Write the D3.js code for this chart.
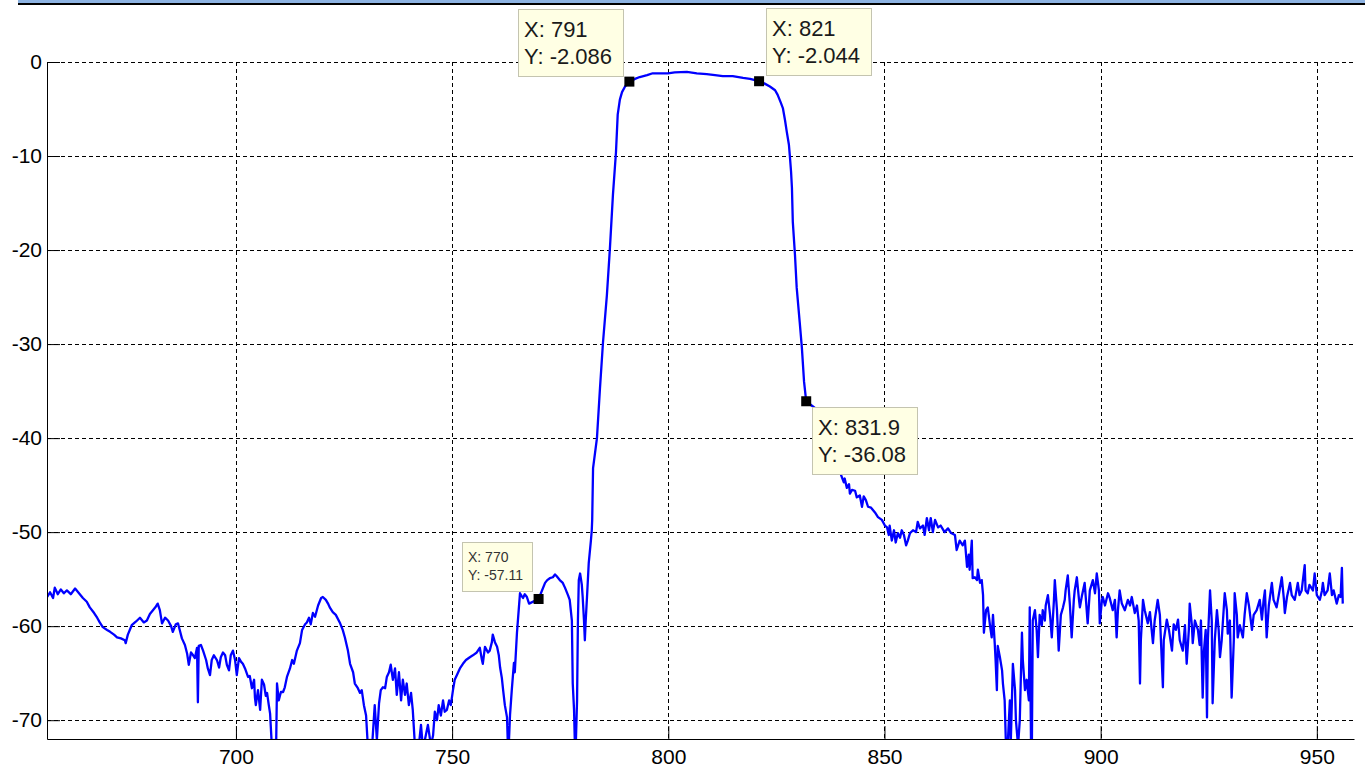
<!DOCTYPE html>
<html>
<head>
<meta charset="utf-8">
<script src="https://cdn.jsdelivr.net/npm/d3@7"></script>
<style>
  body { margin: 0; background: #fff; }
  text { font-family: "Liberation Sans", Arial, sans-serif; }
</style>
</head>
<body>
<svg id="svg"></svg>
<script>
const freq = [
  656.3, 657.0, 657.7, 658.1, 658.8, 659.5, 660.2, 660.9, 661.8, 662.8, 663.7, 664.6, 665.5, 666.2, 667.2,
  667.9, 668.5, 669.2, 670.2, 670.9, 671.8, 672.5, 673.4, 674.3, 674.5, 675.0, 675.9, 676.9, 677.8, 678.7,
  679.4, 680.1, 680.8, 681.5, 681.9, 682.4, 682.9, 683.6, 684.3, 685.0, 685.4, 686.1, 686.6, 687.0, 687.5,
  688.2, 688.7, 689.1, 689.6, 690.1, 690.5, 691.0, 691.2, 691.4, 691.9, 692.4, 693.1, 693.5, 694.0, 694.4,
  694.9, 695.6, 696.1, 696.5, 697.0, 697.5, 697.9, 698.4, 698.8, 699.3, 699.8, 700.2, 700.7, 701.2, 701.6,
  702.1, 702.8, 703.2, 703.7, 704.2, 704.4, 704.6, 705.1, 705.6, 706.0, 706.5, 706.9, 707.2, 707.6, 707.9,
  708.3, 708.8, 709.3, 709.5, 709.9, 710.4, 710.9, 711.3, 711.8, 712.5, 713.0, 713.4, 714.1, 714.8, 715.3,
  716.0, 716.4, 716.9, 717.3, 717.8, 718.3, 719.0, 719.7, 720.1, 720.8, 721.3, 721.7, 722.4, 723.1, 724.1,
  724.7, 725.2, 725.9, 726.4, 727.1, 727.5, 728.2, 728.7, 729.1, 729.6, 730.1, 730.5, 731.0, 731.5, 732.1,
  732.6, 733.1, 733.5, 734.0, 734.5, 734.9, 735.4, 735.8, 736.3, 736.8, 737.2, 737.7, 738.2, 738.6, 739.1,
  739.5, 740.0, 740.5, 740.9, 741.4, 741.9, 742.3, 742.8, 743.2, 743.7, 744.4, 745.1, 745.6, 746.0, 746.5,
  746.9, 747.4, 747.9, 748.3, 748.8, 749.3, 749.7, 750.2, 750.6, 751.3, 751.8, 752.5, 753.2, 754.1, 754.8,
  755.7, 756.4, 756.9, 757.1, 757.6, 758.3, 758.7, 759.2, 759.4, 759.9, 760.4, 760.8, 761.1, 761.5, 761.8,
  762.2, 762.7, 762.9, 763.1, 763.4, 763.8, 764.3, 764.5, 765.0, 765.4, 765.7, 766.1, 766.4, 766.8, 767.3,
  767.8, 770.0, 771.5, 772.0, 772.6, 773.3, 773.8, 774.2, 774.9, 775.6, 776.1, 776.8, 777.2, 777.7, 777.9,
  778.2, 778.4, 778.6, 778.9, 779.1, 779.3, 779.6, 780.0, 780.2, 780.5, 780.7, 780.9, 781.2, 781.6, 782.1,
  782.3, 782.4, 782.6, 783.5, 784.2, 784.9, 785.8, 786.5, 787.2, 787.9, 788.3, 788.8, 789.3, 790.0, 791.0,
  792.3, 793.4, 795.1, 796.4, 798.1, 799.9, 801.5, 804.3, 806.6, 808.9, 810.8, 812.6, 814.9, 817.3, 818.9,
  821.0, 822.3, 823.5, 824.7, 825.3, 826.0, 826.5, 827.0, 827.4, 827.9, 828.1, 828.4, 828.6, 828.8, 829.3,
  829.7, 830.4, 830.9, 831.4, 831.9, 833.9, 835.0, 836.2, 837.4, 838.5, 839.7, 840.1, 840.6, 840.8, 841.3,
  841.8, 842.0, 842.5, 843.2, 843.6, 844.3, 844.8, 845.2, 845.7, 846.2, 846.9, 847.8, 848.5, 849.4, 850.1,
  850.6, 851.0, 851.2, 851.7, 852.2, 852.6, 853.1, 853.6, 854.0, 854.5, 855.0, 855.4, 855.9, 856.6, 857.3,
  857.7, 858.2, 858.9, 859.3, 859.8, 860.3, 860.7, 861.2, 861.7, 862.4, 863.0, 863.9, 864.7, 865.4, 866.3,
  866.7, 867.4, 868.1, 868.6, 869.1, 869.5, 869.7, 870.2, 870.4, 870.9, 871.4, 871.6, 872.1, 872.5, 872.8,
  873.0, 873.5, 873.9, 874.4, 874.8, 875.1, 875.5, 875.7, 876.0, 876.2, 876.7, 877.2, 877.4, 877.8, 878.1,
  878.5, 879.0, 879.2, 879.7, 880.2, 880.4, 880.9, 881.3, 881.8, 882.0, 882.5, 882.9, 883.4, 883.6, 883.9,
  884.1, 884.3, 884.8, 885.2, 885.5, 885.9, 886.4, 886.6, 887.1, 887.3, 887.8, 888.3, 888.7, 889.2, 889.4,
  889.9, 890.3, 890.8, 891.3, 891.7, 891.9, 892.4, 892.9, 893.3, 893.8, 894.0, 894.5, 895.0, 895.2, 895.7,
  896.3, 896.6, 897.0, 897.5, 898.2, 898.7, 899.1, 899.6, 899.8, 900.3, 900.5, 901.0, 901.7, 902.1, 902.8,
  903.3, 903.7, 904.0, 904.4, 904.9, 905.6, 906.3, 906.8, 907.2, 907.9, 908.4, 908.8, 909.1, 909.3, 909.8,
  910.2, 910.9, 911.4, 912.1, 912.5, 913.2, 913.7, 914.4, 914.6, 915.3, 915.8, 916.5, 916.9, 917.4, 917.9,
  918.3, 919.0, 919.5, 919.9, 920.4, 920.6, 921.1, 921.3, 921.8, 922.5, 922.9, 923.2, 923.6, 923.9, 924.3,
  924.6, 924.8, 925.3, 925.7, 925.9, 926.4, 926.9, 927.3, 927.6, 928.0, 928.7, 929.2, 929.4, 929.9, 930.3,
  930.8, 931.0, 931.5, 931.7, 932.2, 932.9, 933.3, 933.8, 934.3, 935.0, 935.4, 936.1, 936.8, 937.3, 937.7,
  938.0, 938.4, 938.9, 939.6, 940.0, 940.7, 941.2, 941.9, 942.4, 942.6, 943.1, 943.8, 944.2, 944.9, 945.6,
  946.0, 946.5, 947.2, 947.4, 947.9, 948.3, 949.1, 949.5, 950.0, 950.7, 951.2, 951.4, 951.8, 952.5, 953.0,
  953.5, 953.9, 954.6, 955.1, 955.5, 955.8, 956.0
];
const gain = [
  -56.9, -56.4, -57.0, -55.9, -56.6, -56.1, -56.5, -56.2, -56.6, -56.0, -56.5, -57.0, -57.4, -58.0, -58.6,
  -59.1, -59.6, -60.1, -60.4, -60.6, -60.9, -61.2, -61.3, -61.5, -61.8, -60.9, -59.9, -59.5, -59.1, -59.6,
  -59.4, -58.7, -58.3, -57.9, -57.6, -58.3, -59.7, -59.1, -59.4, -60.0, -60.6, -59.8, -59.7, -60.4, -61.3,
  -62.0, -62.9, -64.1, -62.8, -63.1, -63.4, -62.3, -68.1, -62.1, -62.0, -62.6, -63.6, -64.5, -65.2, -63.6,
  -63.1, -63.6, -64.4, -63.3, -62.8, -63.1, -64.1, -64.7, -63.1, -62.6, -63.6, -65.2, -63.4, -63.8, -64.0,
  -64.5, -65.4, -65.3, -66.6, -65.7, -67.6, -68.4, -66.8, -68.9, -65.7, -66.2, -67.4, -67.1, -68.4, -69.3,
  -72.7, -72.1, -72.7, -66.1, -67.9, -67.0, -67.0, -66.5, -65.4, -64.5, -63.6, -64.0, -62.6, -61.8, -60.4,
  -59.8, -59.6, -59.1, -59.8, -58.6, -59.0, -57.8, -57.0, -56.9, -57.2, -57.6, -58.0, -58.5, -58.8, -59.7,
  -60.4, -61.2, -62.6, -64.0, -64.9, -66.1, -66.6, -67.1, -66.8, -68.4, -69.5, -72.7, -72.1, -72.7, -68.4,
  -72.1, -68.2, -66.8, -66.5, -66.6, -65.4, -64.9, -64.1, -65.7, -64.5, -67.3, -64.9, -67.9, -65.7, -67.3,
  -66.1, -68.4, -67.1, -68.9, -72.7, -72.1, -72.7, -70.5, -72.7, -72.1, -70.5, -72.7, -71.6, -69.1, -70.0,
  -68.4, -69.5, -67.9, -69.1, -68.9, -67.9, -68.4, -66.8, -65.7, -65.0, -64.5, -64.0, -63.6, -63.3, -63.1,
  -62.8, -62.3, -63.6, -64.0, -62.2, -62.8, -62.6, -61.7, -60.9, -61.7, -62.2, -63.1, -64.4, -65.5, -66.8,
  -68.4, -69.7, -72.7, -72.7, -69.4, -66.8, -63.9, -64.9, -60.7, -58.3, -56.5, -56.8, -57.0, -56.6, -56.9,
  -57.6, -57.11, -55.4, -55.1, -54.9, -54.8, -54.5, -54.7, -55.1, -55.4, -55.9, -56.7, -57.2, -59.4, -66.1,
  -68.9, -72.7, -72.7, -67.9, -59.4, -55.1, -54.4, -55.6, -56.9, -59.4, -61.5, -59.4, -56.9, -53.3, -50.9,
  -49.8, -48.7, -43.2, -40.0, -34.7, -29.8, -24.8, -19.8, -14.1, -9.6, -5.6, -4.0, -3.2, -2.6, -2.086,
  -1.8, -1.6, -1.4, -1.2, -1.2, -1.2, -1.1, -1.06, -1.2, -1.3, -1.4, -1.5, -1.5, -1.7, -1.8,
  -2.044, -2.3, -2.6, -3.0, -3.5, -4.3, -4.9, -6.2, -7.4, -8.8, -9.9, -11.7, -13.4, -17.0, -20.5,
  -24.0, -27.7, -30.4, -34.0, -36.08, -36.8, -38.1, -39.7, -41.3, -42.6, -43.6, -44.1, -44.7, -44.3, -45.3,
  -44.9, -45.9, -45.5, -45.6, -46.3, -46.1, -47.3, -46.2, -46.6, -47.3, -47.4, -47.9, -48.4, -48.7, -49.3,
  -49.5, -50.3, -49.3, -50.9, -49.8, -51.1, -50.1, -50.6, -49.8, -50.3, -51.4, -50.9, -50.1, -49.8, -50.0,
  -48.9, -49.6, -49.3, -50.3, -48.5, -49.8, -48.5, -50.0, -48.7, -49.5, -49.3, -50.0, -49.6, -50.1, -50.3,
  -51.9, -50.9, -51.4, -50.9, -53.7, -52.4, -54.0, -50.9, -54.9, -54.8, -55.1, -54.0, -55.4, -55.1, -56.7,
  -60.7, -58.3, -58.0, -59.9, -61.2, -58.8, -61.8, -63.6, -66.8, -62.1, -63.3, -64.7, -66.1, -67.9, -72.7,
  -72.7, -67.9, -72.7, -64.0, -66.8, -70.0, -72.7, -70.0, -60.7, -63.6, -66.8, -65.7, -67.9, -58.0, -72.7,
  -72.7, -59.4, -58.3, -60.4, -63.3, -58.8, -59.9, -58.3, -59.4, -57.8, -56.7, -58.8, -61.2, -57.2, -55.1,
  -58.3, -62.6, -58.8, -58.0, -57.2, -56.2, -54.6, -57.8, -61.2, -57.2, -56.2, -54.8, -57.2, -58.0, -56.7,
  -55.4, -57.2, -59.7, -56.2, -55.1, -56.5, -54.4, -56.2, -59.7, -57.2, -56.9, -57.8, -56.5, -57.0, -58.3,
  -57.2, -61.2, -58.3, -56.2, -57.6, -58.3, -57.2, -57.8, -56.9, -58.6, -57.8, -59.4, -66.1, -61.5, -57.2,
  -58.3, -59.7, -58.5, -61.8, -59.4, -57.2, -58.8, -66.5, -61.5, -59.3, -60.4, -62.6, -59.8, -60.4, -59.3,
  -61.5, -62.6, -59.9, -64.0, -60.4, -57.6, -59.9, -61.8, -59.4, -60.4, -62.0, -59.4, -67.6, -62.6, -60.4,
  -69.7, -61.5, -56.2, -59.4, -68.2, -61.5, -58.3, -60.4, -63.3, -61.5, -56.5, -58.3, -60.8, -59.4, -67.6,
  -61.5, -56.5, -58.8, -61.2, -59.9, -61.2, -58.8, -56.5, -57.8, -60.4, -58.8, -58.3, -57.2, -59.3, -57.2,
  -56.2, -61.2, -57.8, -55.4, -57.2, -58.0, -56.7, -54.8, -57.2, -58.6, -56.9, -55.4, -56.7, -57.2, -55.4,
  -56.7, -56.2, -53.5, -56.2, -56.5, -55.6, -56.2, -54.4, -56.7, -57.2, -56.2, -55.4, -56.7, -56.2, -54.4,
  -56.7, -56.2, -57.6, -56.7, -56.9, -53.8, -57.6
];

const xTicks = [700, 750, 800, 850, 900, 950];
const yTicks = [0, -10, -20, -30, -40, -50, -60, -70];

// data cursors
const tipX = [791, 821, 831.9, 770];
const tipY = [-2.086, -2.044, -36.08, -57.11];

// where each cursor box sits relative to its point
const tipLayout = [
  {dx: -6, dy: -6, anchor: "br", size: 22},
  {dx: 7, dy: -6, anchor: "bl", size: 22},
  {dx: 6, dy: 6, anchor: "tl", size: 22},
  {dx: -7, dy: -8, anchor: "br", size: 14}
];

const W = 1365, H = 770;
const plotLeft = 47, plotRight = 1354, plotTop = 62, plotBottom = 739;

const x = d3.scaleLinear().domain([656.3, 958.6]).range([plotLeft, plotRight]);
const y = d3.scaleLinear().domain([-72, 0]).range([plotBottom, plotTop]);

const svg = d3.select("#svg")
    .attr("width", W)
    .attr("height", H);

// page header strip
svg.append("rect")
    .attr("x", 18).attr("y", 0)
    .attr("width", W - 18).attr("height", 3)
    .attr("fill", "#8db3e2");
svg.append("rect")
    .attr("x", 18).attr("y", 3)
    .attr("width", W - 18).attr("height", 2)
    .attr("fill", "#000");

// grid
const grid = svg.append("g")
    .attr("stroke", "#000")
    .attr("stroke-width", 1)
    .attr("stroke-dasharray", "4,3");

grid.selectAll(".gx")
    .data(xTicks)
    .join("line")
    .attr("x1", d => Math.round(x(d)) + 0.5)
    .attr("x2", d => Math.round(x(d)) + 0.5)
    .attr("y1", plotTop)
    .attr("y2", plotBottom);

grid.selectAll(".gy")
    .data(yTicks)
    .join("line")
    .attr("x1", plotLeft)
    .attr("x2", plotRight)
    .attr("y1", d => Math.round(y(d)) + 0.5)
    .attr("y2", d => Math.round(y(d)) + 0.5);

// trace
svg.append("clipPath")
    .attr("id", "plotclip")
    .append("rect")
    .attr("x", plotLeft).attr("y", plotTop - 2)
    .attr("width", plotRight - plotLeft).attr("height", plotBottom - plotTop + 2);

const line = d3.line()
    .x(i => x(freq[i]))
    .y(i => y(gain[i]));

svg.append("path")
    .attr("clip-path", "url(#plotclip)")
    .attr("d", line(d3.range(freq.length)))
    .attr("fill", "none")
    .attr("stroke", "#0000ff")
    .attr("stroke-width", 2.3)
    .attr("stroke-linejoin", "round");

// axes (box off, ticks inside), plain hyphen for negatives like MATLAB
const xAxis = d3.axisBottom(x)
    .tickValues(xTicks)
    .tickFormat(d => String(d))
    .tickSizeInner(-13)
    .tickSizeOuter(0)
    .tickPadding(10);

const yAxis = d3.axisLeft(y)
    .tickValues(yTicks)
    .tickFormat(d => String(d))
    .tickSizeInner(-13)
    .tickSizeOuter(0)
    .tickPadding(5);

const gx = svg.append("g")
    .attr("transform", `translate(0, ${plotBottom})`)
    .call(xAxis);

const gy = svg.append("g")
    .attr("transform", `translate(${plotLeft}, 0)`)
    .call(yAxis);

[gx, gy].forEach(g => {
    g.selectAll("path, line").attr("stroke", "#000");
    g.selectAll("text")
        .attr("fill", "#000")
        .style("font-size", "21px")
        .style("font-family", "'Liberation Sans', Arial, sans-serif");
});

// data cursors
tipX.forEach((tx, i) => {
    const px = x(tx), py = y(tipY[i]);
    const lay = tipLayout[i];
    const small = lay.size < 18;
    const lineGap = small ? 18 : 27;
    const firstBase = small ? 20 : 28;
    const boxH = small ? 49 : 67;

    const g = svg.append("g");
    const rect = g.append("rect");
    const lines = ["X: " + tx, "Y: " + tipY[i]];
    const texts = lines.map((s, k) => g.append("text")
        .attr("x", 6)
        .attr("y", firstBase + k * lineGap)
        .attr("fill", small ? "#333" : "#1a1a1a")
        .style("font-size", lay.size + "px")
        .text(s));

    const tw = d3.max(texts, t => t.node().getComputedTextLength());
    const boxW = Math.round(tw + (small ? 15 : 17));

    rect.attr("x", 0.5).attr("y", 0.5)
        .attr("width", boxW).attr("height", boxH)
        .attr("fill", "#ffffe4")
        .attr("stroke", "#c4c4b0")
        .attr("stroke-width", 1);

    let bx = lay.anchor.includes("r") ? px + lay.dx - boxW : px + lay.dx;
    let by = lay.anchor.includes("b") ? py + lay.dy - boxH : py + lay.dy;
    g.attr("transform", `translate(${Math.round(bx)}, ${Math.round(by)})`);

    svg.append("rect")
        .attr("x", px - 5).attr("y", py - 5)
        .attr("width", 10).attr("height", 10)
        .attr("fill", "#000");
});
</script>
</body>
</html>
